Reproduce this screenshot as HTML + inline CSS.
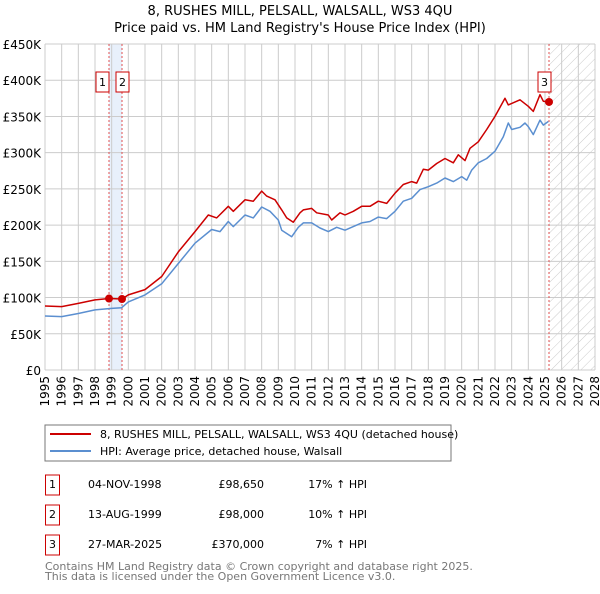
<!DOCTYPE html>
<html><head><meta charset="utf-8">
<style>
body{margin:0;background:#fff;font-family:"DejaVu Sans","Liberation Sans",sans-serif;}
svg text{font-family:"DejaVu Sans","Liberation Sans",sans-serif;}
</style></head>
<body>
<svg width="600" height="590" viewBox="0 0 600 590" xmlns="http://www.w3.org/2000/svg">
<defs>
<pattern id="hatch" width="7" height="7" patternUnits="userSpaceOnUse" patternTransform="rotate(45)">
<line x1="0" y1="0" x2="0" y2="7" stroke="#ccc" stroke-width="1"/>
</pattern>
</defs>
<text x="300" y="15" text-anchor="middle" font-size="13">8, RUSHES MILL, PELSALL, WALSALL, WS3 4QU</text>
<text x="300" y="32" text-anchor="middle" font-size="13">Price paid vs. HM Land Registry's House Price Index (HPI)</text>
<g id="plot"></g>
<g>
<rect x="45" y="425" width="406" height="36" fill="#fff" stroke="#777" stroke-width="1"/>
<line x1="50" y1="434" x2="91" y2="434" stroke="#cc0000" stroke-width="2"/>
<text x="100" y="438" font-size="11">8, RUSHES MILL, PELSALL, WALSALL, WS3 4QU (detached house)</text>
<line x1="50" y1="451" x2="91" y2="451" stroke="#5b8fd0" stroke-width="2"/>
<text x="100" y="455" font-size="11">HPI: Average price, detached house, Walsall</text>
</g>
<g font-size="11">
<rect x="45.5" y="475" width="14" height="20" fill="#fff" stroke="#cc0000"/><text x="52.5" y="488" text-anchor="middle">1</text>
<text x="88" y="488">04-NOV-1998</text><text x="264" y="488" text-anchor="end">£98,650</text><text x="367" y="488" text-anchor="end">17% ↑ HPI</text>
<rect x="45.5" y="505" width="14" height="20" fill="#fff" stroke="#cc0000"/><text x="52.5" y="518" text-anchor="middle">2</text>
<text x="88" y="518">13-AUG-1999</text><text x="264" y="518" text-anchor="end">£98,000</text><text x="367" y="518" text-anchor="end">10% ↑ HPI</text>
<rect x="45.5" y="535" width="14" height="20" fill="#fff" stroke="#cc0000"/><text x="52.5" y="548" text-anchor="middle">3</text>
<text x="88" y="548">27-MAR-2025</text><text x="264" y="548" text-anchor="end">£370,000</text><text x="367" y="548" text-anchor="end">7% ↑ HPI</text>
</g>
<text x="45" y="570" font-size="11" fill="#777">Contains HM Land Registry data © Crown copyright and database right 2025.</text>
<text x="45" y="580" font-size="11" fill="#777">This data is licensed under the Open Government Licence v3.0.</text>
</svg>
<script>
const hpiYears=[1995,1996,1997,1998,1999,1999.6,2000,2001,2002,2003,2004,2005,2005.5,2006,2006.3,2007,2007.5,2008,2008.5,2009,2009.2,2009.8,2010.2,2010.5,2011,2011.5,2012,2012.5,2013,2013.5,2014,2014.5,2015,2015.5,2016,2016.5,2017,2017.5,2018,2018.5,2019,2019.5,2020,2020.3,2020.6,2021,2021.5,2022,2022.5,2022.8,2023,2023.5,2023.8,2024,2024.3,2024.7,2024.9,2025.2];
const hpiValues=[74.6,73.7,78,83,85,86,94,103.6,119,147,175,194,191,205,198,214,210,225,219,207,193,184,197,203,203,196,191,197,193,198,203,205,211,209,219,233,237,249,253,258,265,260,267,262,276,286,292,302,322,341,332,335,341,336,325,345,338,343];
const propYears=[1995,1996,1997,1998,1998.84,1999.62,2000,2001,2002,2003,2004,2004.8,2005.3,2006,2006.3,2007,2007.5,2008,2008.3,2008.8,2009.2,2009.5,2009.9,2010.3,2010.5,2011,2011.3,2012,2012.2,2012.7,2013,2013.5,2014,2014.5,2015,2015.5,2016,2016.5,2017,2017.3,2017.7,2018,2018.5,2019,2019.5,2019.8,2020.2,2020.5,2021,2021.5,2022,2022.6,2022.8,2023.5,2024,2024.3,2024.7,2024.9,2025.24];
const propValues=[88.4,87.5,92,96.7,98.65,98,103.6,111,129,163,191,214,210,226,219,235,233,247,240,235,221,210,204,217,221,223,217,214,207,217,214,219,226,226,233,230,244,256,260,258,277,276,285,292,286,297,289,306,315,332,350,375,366,373,364,357,380,371,370];
const saleYears=[1998.84,1999.62,2025.24];
const saleValues=[98.65,98,370];
const saleLabels=["1","2","3"];
const yTicks=[0,50,100,150,200,250,300,350,400,450];
const yTickLabels=["£0","£50K","£100K","£150K","£200K","£250K","£300K","£350K","£400K","£450K"];
const xTicks=[];for(let y=1995;y<=2028;y++)xTicks.push(y);

const X0=45,X1=595,Y0=370,Y1=44;
const xs=y=>X0+(y-1995)*(X1-X0)/33;
const ys=v=>Y0-v*(Y0-Y1)/450;
const NS="http://www.w3.org/2000/svg";
const g=document.getElementById('plot');
function mk(t,a){const e=document.createElementNS(NS,t);for(const k in a)e.setAttribute(k,a[k]);g.appendChild(e);return e;}
// hatch future
let e=mk('rect',{x:xs(saleYears[2]),y:Y1,width:X1-xs(saleYears[2]),height:Y0-Y1,fill:'url(#hatch)'});


e=mk('rect',{x:xs(saleYears[0]),y:Y1,width:xs(saleYears[1])-xs(saleYears[0]),height:Y0-Y1,fill:'#e8f0fb'});


xTicks.forEach((t,i)=>{
  const l=mk('line',{x1:xs(t),x2:xs(t),y1:Y1,y2:Y0,stroke:'#ccc','stroke-width':1});
  
  
  const tx=mk('text',{x:0,y:0,'font-size':12,'text-anchor':'end',transform:`translate(${xs(t)+4},${Y0+6}) rotate(-90)`});
  tx.textContent=t;
  
  
});
yTicks.forEach((t,i)=>{
  const l=mk('line',{x1:X0,x2:X1,y1:ys(t),y2:ys(t),stroke:'#ccc','stroke-width':1});
  
  
  const tx=mk('text',{x:X0-4,y:ys(t)+5,'font-size':12,'text-anchor':'end'});
  tx.textContent=yTickLabels[i];
  
  
});
saleYears.forEach((s,i)=>{
  const l=mk('line',{x1:xs(s),x2:xs(s),y1:Y1,y2:Y0,stroke:'#e05050','stroke-width':1,'stroke-dasharray':'2,2'});
  
  
});
function path(xa,va,col,name){
  const d=xa.map((x,i)=>(i?'L':'M')+xs(x).toFixed(1)+','+ys(va[i]).toFixed(1)).join('');
  const p=mk('path',{d:d,fill:'none',stroke:col,'stroke-width':1.5,'stroke-linejoin':'round'});
  
  
}
path(hpiYears,hpiValues,'#5b8fd0','hpi-line');
path(propYears,propValues,'#cc0000','property-price-line');
const lblX=[xs(saleYears[0])-6,xs(saleYears[1])+1,xs(saleYears[2])-4];
saleYears.forEach((s,i)=>{
  const c=mk('circle',{cx:xs(s),cy:ys(saleValues[i]),r:4,fill:'#cc0000'});
  
  
  const r=mk('rect',{x:lblX[i]-7,y:72,width:13,height:20,fill:'#fff',stroke:'#cc0000'});
  
  
  const t=mk('text',{x:lblX[i]-0.5,y:86,'font-size':11,'text-anchor':'middle'});
  t.textContent=saleLabels[i];
  
  
});
</script>
</body></html>
